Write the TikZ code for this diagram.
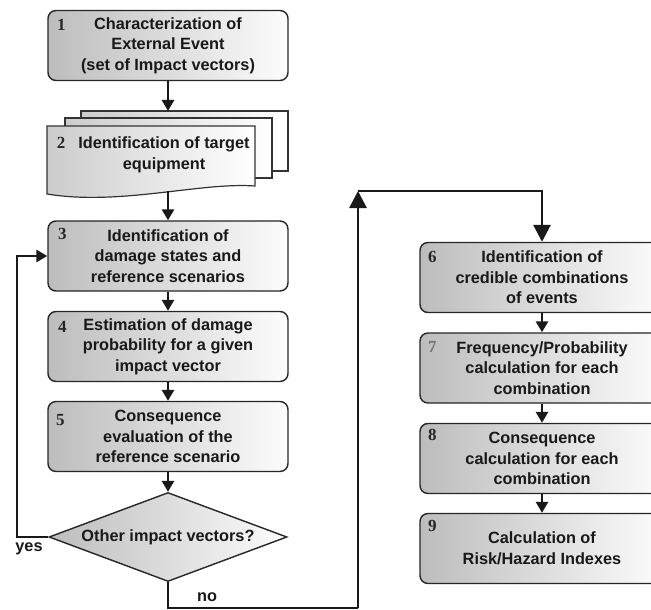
\documentclass[tikz,border=0pt]{standalone}
\usepackage{fontspec}
\setmainfont{Liberation Sans}
\newfontfamily\numfont{Liberation Serif}
\usetikzlibrary{shapes.geometric,arrows.meta,calc}
\begin{document}
\begin{tikzpicture}[x=1pt,y=-1pt,
  grad/.style={left color=black!26, middle color=black!11, right color=black!1},
  txt/.style={font=\bfseries\fontsize{16.3}{20.5}\selectfont, text=black!90, align=center},
  box/.style={txt, draw=black!85, line width=1.4pt, rounded corners=8pt,
    grad, minimum height=70pt, inner sep=0pt},
  lbox/.style={box, minimum width=240pt},
  rbox/.style={box, minimum width=244pt},
  sheet/.style={draw=black!80, line width=1.2pt, left color=black!20, middle color=black!8, right color=white},
  dia/.style={txt, diamond, aspect=2.7, draw=black!85, line width=1.4pt,
    grad, minimum width=238pt, minimum height=89pt, inner sep=0pt},
  num/.style={font=\numfont\bfseries\fontsize{17}{17}\selectfont, text=black!85, inner sep=0pt},
  lbl/.style={txt, inner sep=0pt},
  arr/.style={line width=2.8pt, draw=black!90, -{Triangle[length=11pt,width=12pt]}},
  bigarr/.style={line width=2.8pt, draw=black!90, -{Triangle[length=17pt,width=17pt]}},
  line/.style={line width=2.8pt, draw=black!90}]
\useasboundingbox[fill=white] (0,0) rectangle (651,610);

% left column
\node[lbox] (b1) at (168,45.5) {Characterization of\\External Event\\(set of Impact vectors)};
\node[num] (n1) at ($(b1.north west)+(14,15)$) {1};

% document stack
\path[sheet] (81,111) rectangle (288,171);
\path[sheet] (65,118) rectangle (272,178);
\path[sheet] (47,126) -- (255,126) -- (255,186) .. controls (200,182) and (120,206) .. (47,194) -- cycle;
\node[txt] (b2) at (164,155) {Identification of target\\equipment};
\node[num] (n2) at (61,143) {2};
\coordinate (b2top) at (168,111);
\coordinate (b2bot) at (168,191);

\node[lbox] (b3) at (168,256) {Identification of\\damage states and\\reference scenarios};
\node[num] (n3) at ($(b3.north west)+(15,14)$) {3};
\node[lbox] (b4) at (168,346.5) {Estimation of damage\\probability for a given\\impact vector};
\node[num] (n4) at ($(b4.north west)+(15,16)$) {4};
\node[lbox] (b5) at (168,436.5) {Consequence\\evaluation of the\\reference scenario};
\node[num] (n5) at ($(b5.north west)+(13,19)$) {5};
\node[dia] (d) at (168,537) {Other impact vectors?};

\node[lbl] (yes) at (29,549) {yes};
\node[lbl] (no) at (207,597) {no};

% right column
\node[rbox] (b6) at (542,277.5) {Identification of\\credible combinations\\of events};
\node[num] (n6) at ($(b6.north west)+(13,15)$) {6};
\node[rbox] (b7) at (542,368) {Frequency/Probability\\calculation for each\\combination};
\node[num, text=black!55] (n7) at ($(b7.north west)+(13,15)$) {7};
\node[rbox] (b8) at (542,458.5) {Consequence\\calculation for each\\combination};
\node[num] (n8) at ($(b8.north west)+(13,12)$) {8};
\node[rbox] (b9) at (542,548.5) {Calculation of\\Risk/Hazard Indexes};
\node[num] (n9) at ($(b9.north west)+(13,13)$) {9};

% connectors
\draw[arr] (b1.south) -- (b2top);
\draw[arr] (b2bot) -- (b3.north);
\draw[arr] (b3.south) -- (b4.north);
\draw[arr] (b4.south) -- (b5.north);
\draw[arr] (b5.south) -- (d.north);

\coordinate (yl) at (17,256);
\draw[arr] (d.west) -| (yl) -- (b3.west);

\coordinate (nb) at (358,608);
\coordinate (nc) at (358,191);
\draw[line] (d.south) |- (nb);
\draw[bigarr] (nb) -- (nc);
\draw[bigarr] (nc) -| (b6.north);

\draw[arr] (b6.south) -- (b7.north);
\draw[arr] (b7.south) -- (b8.north);
\draw[arr] (b8.south) -- (b9.north);
\end{tikzpicture}
\end{document}
